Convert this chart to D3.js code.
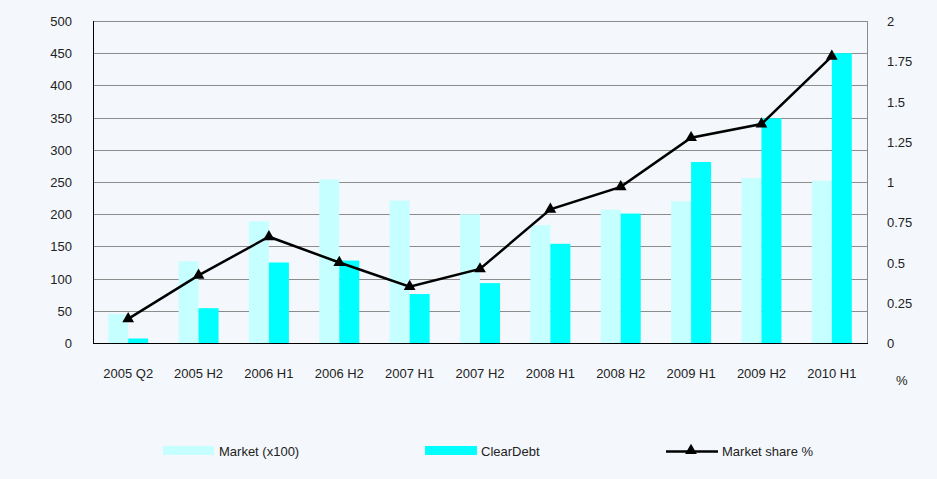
<html>
<head>
    <script type="text/javascript" src="https://cdnjs.cloudflare.com/ajax/libs/d3/7.8.5/d3.min.js"></script>
    <style>
        body { margin: 0; background: #f4f7fb; }
        text { font-family: "Liberation Sans", Arial, sans-serif; fill: #222; }
    </style>
</head>
<body>
    <div id="viz"></div>
    <script type="text/javascript">

    var categories = ["2005 Q2", "2005 H2", "2006 H1", "2006 H2", "2007 H1", "2007 H2",
                      "2008 H1", "2008 H2", "2009 H1", "2009 H2", "2010 H1"];
    var market = [45, 127, 189, 254, 221, 200, 183, 207, 220, 256, 252];
    var clearDebt = [7, 54, 125, 128, 76, 93, 154, 201, 281, 349, 450];
    var share = [0.15, 0.42, 0.66, 0.50, 0.35, 0.46, 0.83, 0.97, 1.275, 1.36, 1.78];
    var leftTicks = [0, 50, 100, 150, 200, 250, 300, 350, 400, 450, 500];
    var rightTicks = [0, 0.25, 0.5, 0.75, 1, 1.25, 1.5, 1.75, 2];

    var W = 937, H = 479;
    var plotL = 93, plotR = 867, plotT = 21, plotB = 343;

    var svg = d3.select("#viz")
        .append("svg")
        .attr("width", W)
        .attr("height", H);

    svg.append("rect").attr("width", W).attr("height", H).attr("fill", "#f4f7fb");

    var x = d3.scaleBand().domain(categories).range([plotL, plotR]);
    var y = d3.scaleLinear().domain([0, 500]).range([plotB, plotT]);
    var y2 = d3.scaleLinear().domain([0, 2]).range([plotB, plotT]);
    var barW = 20;
    var cx = c => x(c) + x.bandwidth() / 2;

    // grid lines
    svg.append("g").selectAll("line").data(leftTicks.slice(1)).enter().append("line")
        .attr("x1", plotL).attr("x2", plotR)
        .attr("y1", d => Math.round(y(d)) + 0.5).attr("y2", d => Math.round(y(d)) + 0.5)
        .attr("stroke", "#8c8c8c").attr("stroke-width", 1);

    // bars
    svg.append("g").selectAll("rect").data(market).enter().append("rect")
        .attr("x", (d, i) => cx(categories[i]) - barW)
        .attr("y", d => y(d))
        .attr("width", barW)
        .attr("height", d => plotB - y(d))
        .attr("fill", "#c6ffff");

    svg.append("g").selectAll("rect").data(clearDebt).enter().append("rect")
        .attr("x", (d, i) => cx(categories[i]))
        .attr("y", d => y(d))
        .attr("width", barW)
        .attr("height", d => plotB - y(d))
        .attr("fill", "#00ffff");

    // axis lines
    svg.append("line").attr("x1", plotR + 0.5).attr("x2", plotR + 0.5)
        .attr("y1", plotT).attr("y2", plotB).attr("stroke", "#8c8c8c");
    svg.append("line").attr("x1", plotL + 0.5).attr("x2", plotL + 0.5)
        .attr("y1", plotT).attr("y2", plotB + 0.5).attr("stroke", "#000");
    svg.append("line").attr("x1", plotL).attr("x2", plotR + 1)
        .attr("y1", plotB + 0.5).attr("y2", plotB + 0.5).attr("stroke", "#000");

    // market share line
    var line = d3.line()
        .x((d, i) => cx(categories[i]))
        .y(d => y2(d));
    svg.append("path").datum(share)
        .attr("d", line)
        .attr("fill", "none")
        .attr("stroke", "#000")
        .attr("stroke-width", 2.5);

    var tri = d3.symbol().type(d3.symbolTriangle).size(60);
    svg.append("g").selectAll("path").data(share).enter().append("path")
        .attr("d", tri)
        .attr("transform", (d, i) => "translate(" + cx(categories[i]) + "," + y2(d) + ")")
        .attr("fill", "#000");

    // tick labels
    svg.append("g").selectAll("text").data(leftTicks).enter().append("text")
        .attr("x", 72).attr("y", d => y(d) + 5)
        .attr("text-anchor", "end")
        .attr("font-size", 13)
        .text(d => d);

    svg.append("g").selectAll("text").data(rightTicks).enter().append("text")
        .attr("x", 887).attr("y", d => y2(d) + 5)
        .attr("font-size", 13)
        .text(d => d);

    svg.append("g").selectAll("text").data(categories).enter().append("text")
        .attr("x", d => cx(d))
        .attr("y", 378)
        .attr("text-anchor", "middle")
        .attr("font-size", 13)
        .text(d => d);

    svg.append("text").attr("x", 896).attr("y", 385).attr("font-size", 13).text("%");

    // legend
    var leg = svg.append("g");
    leg.append("rect").attr("x", 163).attr("y", 446).attr("width", 51).attr("height", 9).attr("fill", "#c6ffff");
    leg.append("text").attr("x", 219).attr("y", 456).attr("font-size", 13).text("Market (x100)");
    leg.append("rect").attr("x", 425).attr("y", 446).attr("width", 52).attr("height", 9).attr("fill", "#00ffff");
    leg.append("text").attr("x", 481).attr("y", 456).attr("font-size", 13).text("ClearDebt");
    leg.append("line").attr("x1", 666).attr("x2", 718).attr("y1", 451.5).attr("y2", 451.5)
        .attr("stroke", "#000").attr("stroke-width", 2.5);
    leg.append("path").attr("d", tri).attr("transform", "translate(691,450.5)").attr("fill", "#000");
    leg.append("text").attr("x", 722).attr("y", 456).attr("font-size", 13).text("Market share %");

    </script>
</body>
</html>
